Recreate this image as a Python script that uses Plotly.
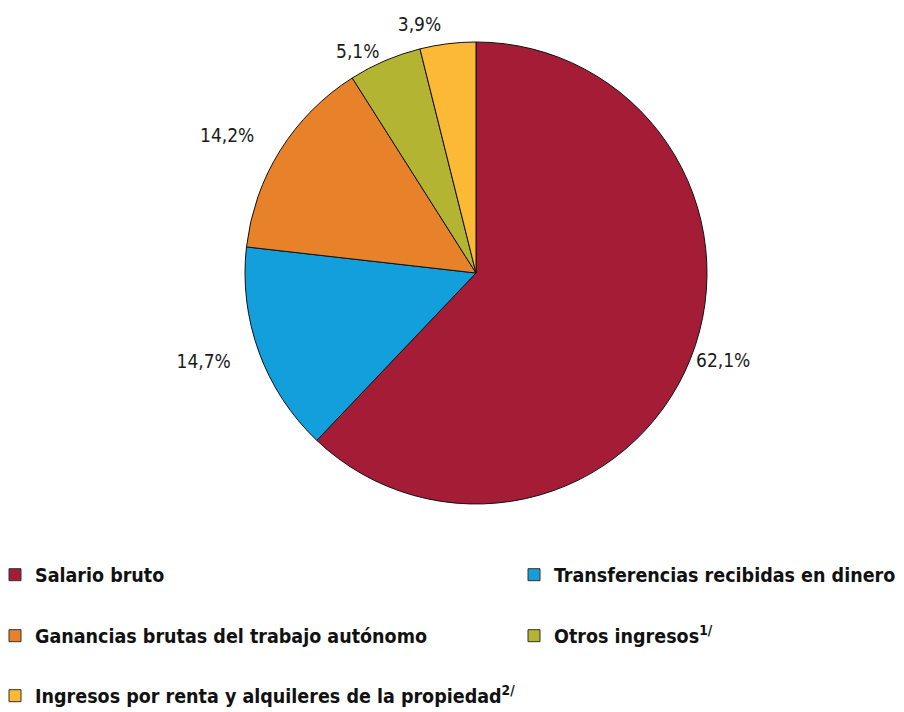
import plotly.graph_objects as go

# categorías y porcentajes (sentido horario desde las 12)
labels = [
    "Salario bruto",
    "Transferencias recibidas en dinero",
    "Ganancias brutas del trabajo autónomo",
    "Otros ingresos<sup>1/</sup>",
    "Ingresos por renta y alquileres de la propiedad<sup>2/</sup>",
]
values = [62.1, 14.7, 14.2, 5.1, 3.9]
colors = ["#A51C36", "#139FDB", "#E8822A", "#B2B432", "#FBB935"]

FONT = "DejaVu Sans Condensed, sans-serif"
W, H = 904, 712

# posición del pastel (px, la página añade 8 px de margen)
cx, cy, r = 468, 265, 231


def dom(rad):
    return dict(x=[(cx - rad) / W, (cx + rad) / W],
                y=[1 - (cy + rad) / H, 1 - (cy - rad) / H])


tmpl = "%{value:.1f}%"
# qué etiqueta se dibuja en cada pastel (radio, plantillas); evita líneas guía
label_pies = [
    (r, [tmpl, "", "", tmpl, ""]),
    (255, ["", tmpl, tmpl, "", ""]),
    (240, ["", "", "", "", tmpl]),
]

fig = go.Figure()

# pasteles auxiliares transparentes, solo para las etiquetas
for rad, tt in label_pies[1:]:
    fig.add_trace(go.Pie(
        labels=labels, values=values, sort=False, direction="clockwise", rotation=0,
        marker=dict(colors=["rgba(0,0,0,0)"] * len(values), line=dict(width=0)),
        textposition="outside", texttemplate=tt,
        textfont=dict(family=FONT, size=19, color="#1a1a1a"),
        showlegend=False, hoverinfo="skip", domain=dom(rad),
    ))

fig.add_trace(go.Pie(
    labels=labels, values=values, sort=False, direction="clockwise", rotation=0,
    marker=dict(colors=colors, line=dict(color="#111111", width=1)),
    textposition="outside", texttemplate=label_pies[0][1],
    textfont=dict(family=FONT, size=19, color="#1a1a1a"),
    showlegend=False, hoverinfo="label+percent", domain=dom(r),
))

# leyenda en dos columnas: una leyenda por entrada
leg_pos = [(-13, 567), (506, 567), (-13, 628), (506, 628), (-13, 688)]
legends = {}
for i, (lab, col) in enumerate(zip(labels, colors)):
    key = "legend" if i == 0 else f"legend{i + 1}"
    fig.add_trace(go.Scatter(
        x=[None], y=[None], mode="markers", name=lab,
        marker=dict(symbol="square", size=12, color=col,
                    line=dict(color="#333333", width=1)),
        legend=key, showlegend=True, hoverinfo="skip",
    ))
    lx, ly = leg_pos[i]
    legends[key] = dict(
        x=lx / W, xanchor="left", y=1 - ly / H, yanchor="middle",
        orientation="v", itemwidth=30, itemclick=False, itemdoubleclick=False,
        bgcolor="rgba(0,0,0,0)",
        font=dict(family=FONT, size=19.5, color="#111111", weight="bold"),
    )

fig.update_layout(
    width=W,
    height=H,
    margin=dict(l=0, r=0, t=0, b=0, autoexpand=False),
    separators=", ",
    paper_bgcolor="white",
    plot_bgcolor="white",
    font=dict(family=FONT, color="#1a1a1a"),
    xaxis=dict(visible=False),
    yaxis=dict(visible=False),
    **legends,
)

fig.write_html("out.html")
